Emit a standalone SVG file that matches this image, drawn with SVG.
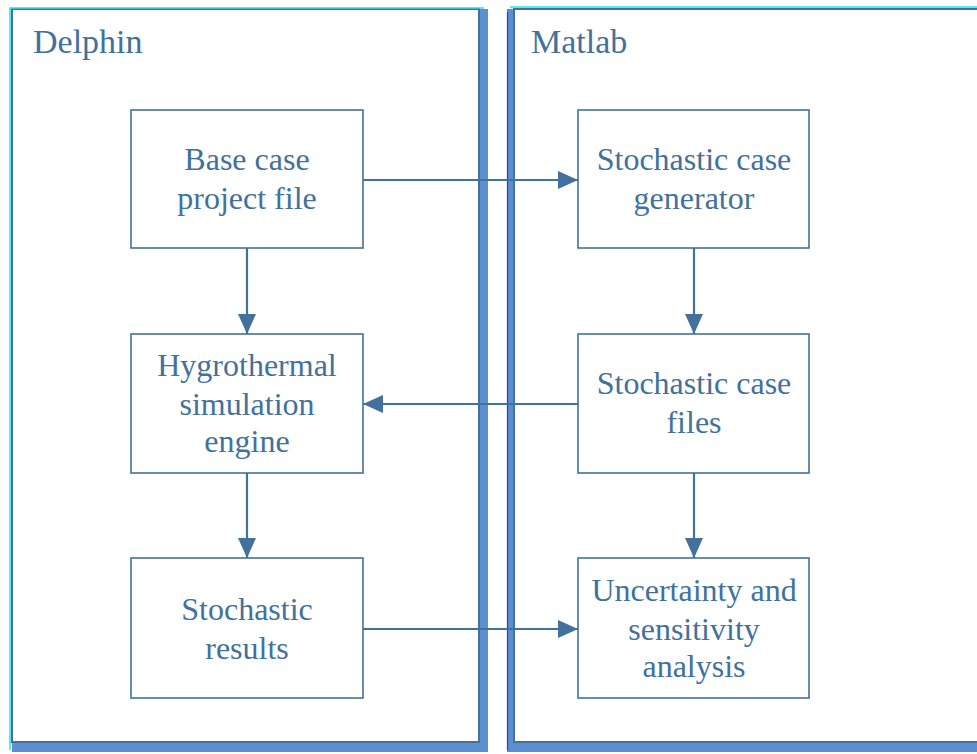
<svg xmlns="http://www.w3.org/2000/svg" width="977" height="754" viewBox="0 0 977 754">
<defs>
<style>
.shadow{fill:#5b8fcf}
.panel{fill:#fff;stroke:#41719c;stroke-width:2}
.hl{stroke:#22e0f0;stroke-width:1.5;fill:none}
.box{fill:#fff;stroke:#41719c;stroke-width:1.6}
.c{stroke:#41719c;stroke-width:2.2;fill:none;marker-end:url(#ah)}
</style>
<marker id="ah" markerUnits="userSpaceOnUse" markerWidth="20" markerHeight="20" viewBox="0 0 20 20" refX="20" refY="10" orient="auto">
<path d="M0,1 L20,10 L0,19 Z" fill="#41719c"/>
</marker>
</defs>
<g id="delphin">
<rect class="shadow" x="12" y="9" width="476" height="743"/>
<rect class="panel" x="12" y="9" width="467" height="733"/>
<path class="hl" d="M10,750 L10,8 L484,8"/>
<text x="33" y="53" font-family="Liberation Serif" font-size="34" fill="#41719c">Delphin</text>
</g>
<g id="matlab">
<rect class="shadow" x="507" y="9" width="472" height="743"/>
<rect class="panel" x="514" y="9" width="470" height="733"/>
<path d="M507.5,12 L507.5,750" stroke="#1f3fe0" stroke-width="1.2"/>
<path class="hl" d="M510,7 L977,7"/>
<text x="531" y="53" font-family="Liberation Serif" font-size="34" fill="#41719c">Matlab</text>
</g>
<g font-family="Liberation Serif" font-size="32" fill="#41719c" text-anchor="middle">
<g id="base-case">
<rect class="box" x="131" y="110" width="232" height="138"/>
<text x="247" y="170">Base case</text>
<text x="247" y="209">project file</text>
</g>
<g id="hygrothermal">
<rect class="box" x="131" y="334" width="232" height="139"/>
<text x="247" y="376">Hygrothermal</text>
<text x="247" y="415">simulation</text>
<text x="247" y="452">engine</text>
</g>
<g id="stoch-results">
<rect class="box" x="131" y="558" width="232" height="140"/>
<text x="247" y="620">Stochastic</text>
<text x="247" y="659">results</text>
</g>
<g id="generator">
<rect class="box" x="578" y="110" width="231" height="138"/>
<text x="694" y="170">Stochastic case</text>
<text x="694" y="209">generator</text>
</g>
<g id="case-files">
<rect class="box" x="578" y="334" width="231" height="139"/>
<text x="694" y="394">Stochastic case</text>
<text x="694" y="433">files</text>
</g>
<g id="uncertainty">
<rect class="box" x="578" y="558" width="231" height="140"/>
<text x="694" y="601">Uncertainty and</text>
<text x="694" y="640">sensitivity</text>
<text x="694" y="677">analysis</text>
</g>
</g>
<g id="connectors">
<line class="c" x1="363" y1="180" x2="578" y2="180"/>
<line class="c" x1="247" y1="248" x2="247" y2="334"/>
<line class="c" x1="694" y1="248" x2="694" y2="334"/>
<line class="c" x1="578" y1="404" x2="363" y2="404"/>
<line class="c" x1="247" y1="473" x2="247" y2="558"/>
<line class="c" x1="694" y1="473" x2="694" y2="558"/>
<line class="c" x1="363" y1="629" x2="578" y2="629"/>
</g>
</svg>
